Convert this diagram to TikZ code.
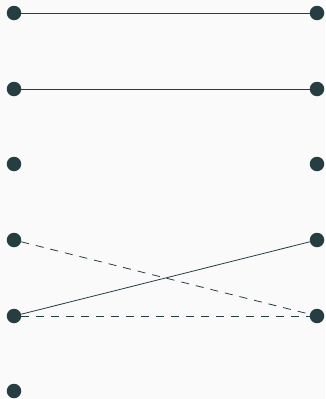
\documentclass[tikz,border=0pt]{standalone}
\definecolor{dotc}{HTML}{263D42}
\definecolor{bgc}{HTML}{FAFAFA}
\tikzset{
  dotnode/.style={circle,fill=dotc,inner sep=0pt,minimum size=14.5pt},
  link/.style={draw=dotc,line width=0.8pt},
  dlink/.style={link,dash pattern=on 8pt off 7pt}
}
\begin{document}
\begin{tikzpicture}[x=1pt,y=-1pt]
\fill[bgc] (0,0) rectangle (325,399);
\useasboundingbox (0,0) rectangle (325,399);
\foreach \i/\y in {1/13,2/89,3/164,4/240,5/316,6/391}{
  \node[dotnode] (l\i) at (14,\y) {};
}
\foreach \i/\y in {1/13,2/89,3/164,4/240,5/316}{
  \node[dotnode] (r\i) at (317,\y) {};
}
\draw[link] (l1) -- (r1);
\draw[link] (l2) -- (r2);
\draw[dlink] (l4) -- (r5);
\draw[link] (l5) -- (r4);
\draw[dlink] (l5) -- (r5);
\end{tikzpicture}
\end{document}
